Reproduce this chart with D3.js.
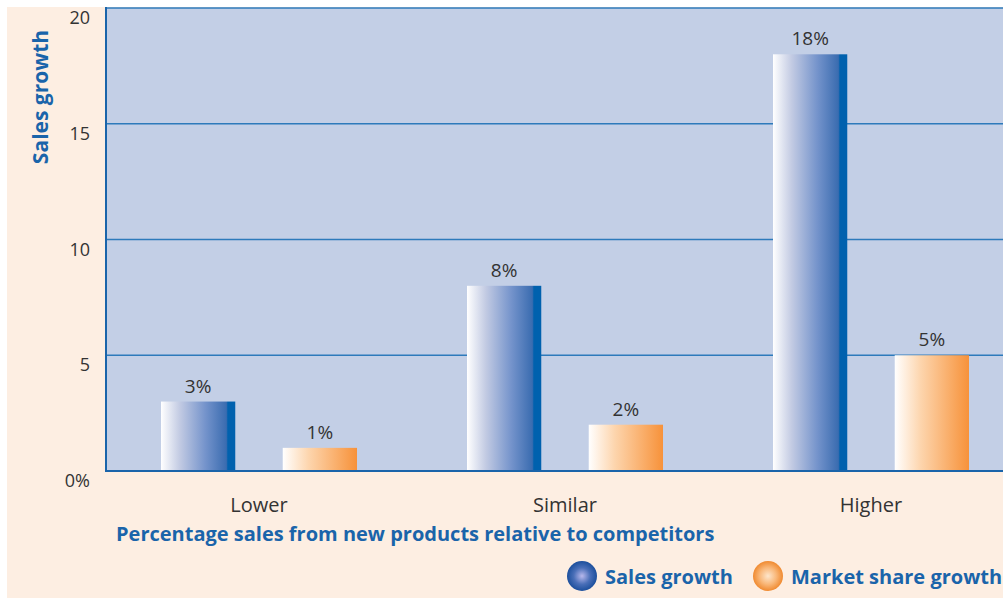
<!DOCTYPE html>
<html>
<head>
<meta charset="utf-8">
<script src="https://cdn.jsdelivr.net/npm/d3@7"></script>
<style>
  body { margin: 0; background: #fff; }
  svg { display: block; font-family: "Open Sans", "Noto Sans", sans-serif; }
</style>
</head>
<body>
<svg id="chart" width="1003" height="599"></svg>
<script>
// Data
const categories = ['Lower', 'Similar', 'Higher'];
const seriesNames = ['Sales growth', 'Market share growth'];
const salesGrowth = [3, 8, 18];
const marketShareGrowth = [1, 2, 5];
const yTicks = [0, 5, 10, 15, 20];
const yTickLabels = ['0%', '5', '10', '15', '20'];

const W = 1003, H = 599;
const margin = { left: 106, top: 8 };
const blue = '#1a64aa';

const svg = d3.select('#chart');

// Gradients
const defs = svg.append('defs');
const salesGrad = defs.append('linearGradient').attr('id', 'gSales');
salesGrad.append('stop').attr('offset', '0%').attr('stop-color', '#ffffff');
salesGrad.append('stop').attr('offset', '25%').attr('stop-color', '#c3cbe3');
salesGrad.append('stop').attr('offset', '60%').attr('stop-color', '#7493cb');
salesGrad.append('stop').attr('offset', '88%').attr('stop-color', '#3a6cb0');
salesGrad.append('stop').attr('offset', '90%').attr('stop-color', '#0061ae');
salesGrad.append('stop').attr('offset', '100%').attr('stop-color', '#0061ae');

const mktGrad = defs.append('linearGradient').attr('id', 'gMkt');
mktGrad.append('stop').attr('offset', '0%').attr('stop-color', '#ffffff');
mktGrad.append('stop').attr('offset', '35%').attr('stop-color', '#fdd5ad');
mktGrad.append('stop').attr('offset', '100%').attr('stop-color', '#f7923a');

const salesBall = defs.append('radialGradient').attr('id', 'rSales');
salesBall.append('stop').attr('offset', '0%').attr('stop-color', '#b8b8ec');
salesBall.append('stop').attr('offset', '55%').attr('stop-color', '#4a6fb8');
salesBall.append('stop').attr('offset', '100%').attr('stop-color', '#1c4f9c');

const mktBall = defs.append('radialGradient').attr('id', 'rMkt');
mktBall.append('stop').attr('offset', '0%').attr('stop-color', '#fde6cc');
mktBall.append('stop').attr('offset', '55%').attr('stop-color', '#f9b87a');
mktBall.append('stop').attr('offset', '100%').attr('stop-color', '#f08a30');

// Background panel
svg.append('rect').attr('x', 7).attr('y', 7).attr('width', W - 7).attr('height', H - 8)
    .attr('fill', '#fdeee2');

const x0 = d3.scaleBand().domain(categories).range([106, 1024]);
const x1 = d3.scaleBand().domain(seriesNames).range([55, 251]).paddingInner(0.39);
const y = d3.scaleLinear().domain([0, 20]).range([471, 8]);

// Plot area
svg.append('rect').attr('x', margin.left).attr('y', y(20))
    .attr('width', W - margin.left).attr('height', y(0) - y(20))
    .attr('fill', '#c3cfe6');

// Gridlines
svg.append('g').selectAll('line')
    .data(yTicks.filter(d => d > 0))
    .join('line')
    .attr('x1', margin.left).attr('x2', W)
    .attr('y1', d => y(d)).attr('y2', d => y(d))
    .attr('stroke', '#2d7abb').attr('stroke-width', 1.6);

// Left axis line
svg.append('line').attr('x1', margin.left).attr('x2', margin.left)
    .attr('y1', y(20) - 1).attr('y2', y(0) + 1)
    .attr('stroke', blue).attr('stroke-width', 2);

// Bars
const groups = svg.append('g').selectAll('g')
    .data(categories)
    .join('g')
    .attr('transform', d => `translate(${x0(d)},0)`);

const barData = (c, i) => [
    { key: seriesNames[0], value: salesGrowth[i], fill: 'url(#gSales)' },
    { key: seriesNames[1], value: marketShareGrowth[i], fill: 'url(#gMkt)' }
];

groups.selectAll('rect')
    .data(barData)
    .join('rect')
    .attr('x', d => x1(d.key))
    .attr('y', d => y(d.value))
    .attr('width', x1.bandwidth())
    .attr('height', d => y(0) - y(d.value))
    .attr('fill', d => d.fill);

groups.selectAll('text.val')
    .data(barData)
    .join('text')
    .attr('class', 'val')
    .attr('x', d => x1(d.key) + x1.bandwidth() / 2)
    .attr('y', d => y(d.value) - 9)
    .attr('text-anchor', 'middle')
    .attr('font-size', 19)
    .attr('fill', '#333')
    .text(d => d.value + '%');

// x axis baseline
svg.append('line').attr('x1', margin.left).attr('x2', W)
    .attr('y1', y(0)).attr('y2', y(0))
    .attr('stroke', blue).attr('stroke-width', 2);

// Y tick labels
svg.append('g').selectAll('text')
    .data(yTicks)
    .join('text')
    .attr('x', 90)
    .attr('y', d => y(d) + 16)
    .attr('text-anchor', 'end')
    .attr('font-size', 18)
    .attr('fill', '#333')
    .text((d, i) => yTickLabels[i]);

// Category labels
svg.append('g').selectAll('text')
    .data(categories)
    .join('text')
    .attr('x', d => x0(d) + (x1.range()[0] + x1.range()[1]) / 2)
    .attr('y', 512)
    .attr('text-anchor', 'middle')
    .attr('font-size', 20)
    .attr('fill', '#333')
    .text(d => d);

// Axis titles
svg.append('text')
    .attr('x', 116).attr('y', 541)
    .attr('font-size', 20).attr('font-weight', 'bold')
    .attr('fill', blue)
    .text('Percentage sales from new products relative to competitors');

svg.append('text')
    .attr('transform', 'translate(48,97) rotate(-90)')
    .attr('text-anchor', 'middle')
    .attr('font-size', 21).attr('font-weight', 'bold')
    .attr('fill', blue)
    .text('Sales growth');

// Legend
const legend = svg.append('g');
const legendItems = [
    { name: seriesNames[0], x: 582, fill: 'url(#rSales)' },
    { name: seriesNames[1], x: 768, fill: 'url(#rMkt)' }
];
legend.selectAll('circle')
    .data(legendItems)
    .join('circle')
    .attr('cx', d => d.x).attr('cy', 576).attr('r', 15)
    .attr('fill', d => d.fill);
legend.selectAll('text')
    .data(legendItems)
    .join('text')
    .attr('x', d => d.x + 23).attr('y', 584)
    .attr('font-size', 20).attr('font-weight', 'bold')
    .attr('fill', blue)
    .text(d => d.name);
</script>
</body>
</html>
